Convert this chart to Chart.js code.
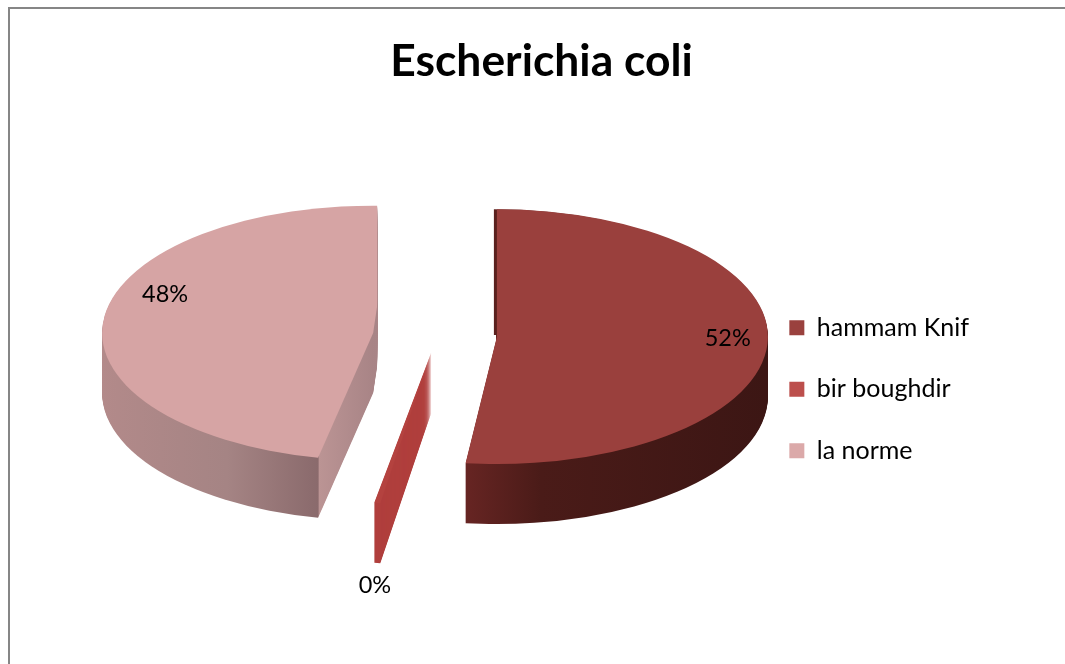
<!DOCTYPE html>
<html>
<head>
<meta charset="utf-8">
<title>Escherichia coli</title>
<script src="https://cdn.jsdelivr.net/npm/chart.js@4"></script>
<style>
    html, body { margin: 0; padding: 0; background: #fff; }
    #wrap { position: relative; width: 1065px; height: 664px; overflow: hidden; }
    #frame { position: absolute; left: 8px; top: 7px; width: 1055px; height: 657px; border-left: 2px solid #868686; border-top: 2px solid #868686; }
    #pieChart { position: absolute; left: 0; top: 0; }
</style>
</head>
<body>
<div id="wrap">
    <div id="frame"></div>
    <canvas id="pieChart" width="1065" height="664"></canvas>
</div>
<script>
const categories = ['hammam Knif', 'bir boughdir', 'la norme'];
const values = [52, 0.3, 48];
const sliceColors = ['#9A403D', '#B4423F', '#D6A4A4'];
const legendColors = ['#9A413E', '#BC4F4C', '#DBA9A9'];

// look of the tilted pie
const SQUASH = 0.47, DEPTH = 60, CENTER_X = 436, CENTER_Y = 335, RADIUS = 271;
const sliceExplode = [61, 37, 63];
// small per slice fudge for the perspective of the 3D view
const sliceLean = [0, 2.4, 4];
const sliceZoom = [1, 1.2, 1];
const sliceClip = [null, null, 4];
// label position: angle in degrees (clockwise from top) and fraction of the radius
const labelAngle = [91, 186.5, 291.5];
const labelDist = [0.852, 1.84, 0.825];

function sideGradient(ctx, i, el) {
    const R = el.outerRadius;
    if (i === 1) return '#B03F3D';
    if (i === 0) {
        const g = ctx.createLinearGradient(el.x - 40, 0, el.x + R, 0);
        g.addColorStop(0, '#6a2624');
        g.addColorStop(0.27, '#4a1b18');
        g.addColorStop(1, '#3c1614');
        return g;
    }
    const g = ctx.createLinearGradient(el.x - R, 0, el.x, 0);
    const f = 1 + Math.cos(el.startAngle);
    g.addColorStop(0, '#b38a8a');
    g.addColorStop(f * 0.6, '#a58484');
    g.addColorStop(f, '#8a6a6c');
    g.addColorStop(Math.min(f + 0.002, 1), '#bb9494');
    g.addColorStop(1, '#a88486');
    return g;
}

function midAngle(el) {
    return (el.startAngle + el.endAngle) / 2;
}

function drawSlice(ctx, el, i, dy) {
    const mid = midAngle(el);
    ctx.save();
    ctx.translate(Math.cos(mid) * sliceExplode[i], Math.sin(mid) * sliceExplode[i] + dy);
    ctx.translate(el.x, el.y);
    ctx.rotate(sliceLean[i] * Math.PI / 180);
    ctx.scale(sliceZoom[i], sliceZoom[i]);
    ctx.translate(-el.x, -el.y);
    el.draw(ctx);
    ctx.restore();
}

const pie3d = {
    id: 'pie3d',
    beforeDatasetsDraw(chart) {
        const ctx = chart.ctx;
        const arcs = chart.getDatasetMeta(0).data;
        ctx.save();
        ctx.translate(CENTER_X - arcs[0].x, CENTER_Y);
        ctx.scale(1, SQUASH);
        ctx.translate(0, -arcs[0].y);

        arcs.forEach((el, i) => {
            const topOptions = el.options;
            const sideOptions = Object.assign({}, topOptions, { backgroundColor: sideGradient(ctx, i, el) });
            const apexX = el.x + Math.cos(midAngle(el)) * sliceExplode[i];
            ctx.save();
            if (sliceClip[i] !== null) {
                ctx.beginPath();
                ctx.rect(apexX - 2000, -2000, 2000 + sliceClip[i], 6000);
                ctx.clip();
            }
            el.options = sideOptions;
            for (let d = DEPTH; d > 0; d--) {
                drawSlice(ctx, el, i, d / SQUASH);
            }
            // dark inner wall seen behind the top of the first slice
            if (i === 0) {
                ctx.save();
                ctx.beginPath();
                ctx.rect(apexX - 2000, el.y - 2000, 4000, 2000);
                ctx.clip();
                ctx.translate(-3, 0);
                drawSlice(ctx, el, i, 0);
                ctx.restore();
            }
            el.options = topOptions;
            drawSlice(ctx, el, i, 0);
            ctx.restore();
        });
        ctx.restore();

        const total = values.reduce((a, b) => a + b, 0);
        ctx.save();
        ctx.font = '23.5px Lato';
        ctx.fillStyle = '#000';
        ctx.textAlign = 'center';
        ctx.textBaseline = 'middle';
        arcs.forEach((el, i) => {
            const mid = midAngle(el);
            const a = labelAngle[i] * Math.PI / 180;
            const x = CENTER_X + Math.cos(mid) * sliceExplode[i] + Math.sin(a) * RADIUS * labelDist[i];
            const y = CENTER_Y + Math.sin(mid) * sliceExplode[i] * SQUASH - Math.cos(a) * RADIUS * labelDist[i] * SQUASH;
            ctx.fillText(Math.round(values[i] / total * 100) + '%', x, y);
        });
        ctx.restore();
        return false;
    }
};

new Chart(document.getElementById('pieChart').getContext('2d'), {
    type: 'pie',
    data: {
        labels: categories,
        datasets: [{
            data: values,
            backgroundColor: sliceColors,
            borderWidth: 0,
            radius: RADIUS
        }]
    },
    options: {
        responsive: false,
        animation: false,
        events: [],
        layout: { padding: { left: 104, right: 86 } },
        plugins: {
            tooltip: { enabled: false },
            title: {
                display: true,
                text: 'Escherichia coli',
                color: '#000',
                font: { family: 'Lato', size: 44.4, weight: 'bold' },
                padding: { top: 35, bottom: 26 }
            },
            legend: {
                position: 'right',
                fullSize: false,
                labels: {
                    boxWidth: 15,
                    boxHeight: 15,
                    padding: 36.5,
                    color: '#000',
                    font: { family: 'Lato', size: 25 },
                    generateLabels: () => categories.map((c, i) => ({
                        text: c, fillStyle: legendColors[i], strokeStyle: legendColors[i], lineWidth: 0, index: i
                    }))
                }
            }
        }
    },
    plugins: [pie3d]
});
</script>
</body>
</html>
